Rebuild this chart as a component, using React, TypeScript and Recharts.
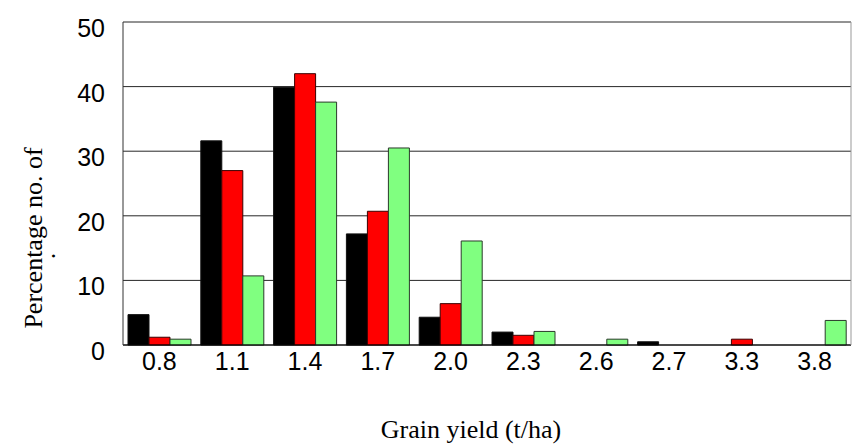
import React from "react"
import { Bar, BarChart, CartesianGrid, XAxis, YAxis } from "recharts"

const categories = ["0.8", "1.1", "1.4", "1.7", "2.0", "2.3", "2.6", "2.7", "3.3", "3.8"]
const blackValues = [4.7, 31.6, 39.9, 17.2, 4.3, 2.0, null, 0.5, null, null]
const redValues = [1.2, 27.0, 42.0, 20.7, 6.4, 1.5, null, null, 0.9, null]
const greenValues = [0.9, 10.7, 37.6, 30.5, 16.1, 2.1, 0.9, null, null, 3.8]
const yTicks = [0, 10, 20, 30, 40, 50]

const data = categories.map((yieldClass, i) => ({
  yieldClass,
  black: blackValues[i],
  red: redValues[i],
  green: greenValues[i],
}))

const sans = "'Liberation Sans', Arial, sans-serif"
const serif = "'Liberation Serif', 'Times New Roman', serif"

function XTick({ x, y, payload }: any) {
  return (
    <text x={x} y={y + 25} textAnchor="middle" fontFamily={sans} fontSize={25} fill="#000">
      {payload.value}
    </text>
  )
}

function YTick({ x, y, payload }: any) {
  return (
    <text x={x - 18} y={y + 15} textAnchor="end" fontFamily={sans} fontSize={25} fill="#000">
      {payload.value}
    </text>
  )
}

function YLabel() {
  return (
    <g fontFamily={serif} fontSize={26} fill="#000">
      <text x={42} y={238} textAnchor="middle" transform="rotate(-90 42 238)">
        Percentage no. of
      </text>
      <text x={55} y={256} textAnchor="middle" transform="rotate(-90 55 256)">
        .
      </text>
    </g>
  )
}

function XLabel() {
  return (
    <text x={471} y={438} textAnchor="middle" fontFamily={serif} fontSize={26} fill="#000">
      Grain yield (t/ha)
    </text>
  )
}

export default function App() {
  return (
    <div style={{ position: "absolute", left: 0, top: 0, background: "#fff" }}>
      <BarChart
        width={852}
        height={445}
        data={data}
        margin={{ top: 22, right: 0, left: 0, bottom: 0 }}
        barCategoryGap={5}
        barGap={0}
      >
        <CartesianGrid vertical={false} stroke="#000" strokeOpacity={0.85} />
        <XAxis
          dataKey="yieldClass"
          height={100}
          tickLine={false}
          tickSize={0}
          tickMargin={0}
          tick={<XTick />}
          interval={0}
          axisLine={{ stroke: "#000" }}
          label={<XLabel />}
        />
        <YAxis
          width={123}
          domain={[0, 50]}
          ticks={yTicks}
          tickLine={false}
          tickSize={0}
          tickMargin={0}
          tick={<YTick />}
          axisLine={{ stroke: "#333" }}
          label={<YLabel />}
        />
        <YAxis
          yAxisId="right"
          orientation="right"
          width={1}
          tick={false}
          tickLine={false}
          axisLine={{ stroke: "#999" }}
        />
        <Bar dataKey="black" fill="#000000" stroke="#111" strokeWidth={1} isAnimationActive={false} />
        <Bar dataKey="red" fill="#ff0000" stroke="#3a0000" strokeWidth={1} isAnimationActive={false} />
        <Bar dataKey="green" fill="#80ff80" stroke="#2a3a2a" strokeWidth={1} isAnimationActive={false} />
      </BarChart>
    </div>
  )
}
